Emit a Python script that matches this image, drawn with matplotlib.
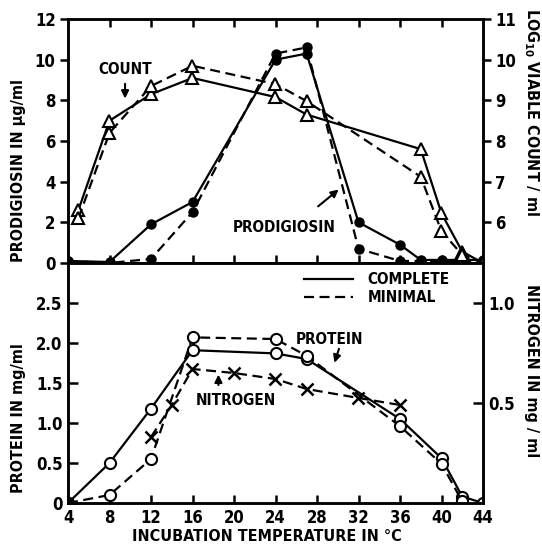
import matplotlib
matplotlib.use('Agg')
import matplotlib.pyplot as plt

plt.rcParams['font.family'] = ['DejaVu Sans']
plt.rcParams['font.stretch'] = 'condensed'
plt.rcParams['font.weight'] = 'bold'
plt.rcParams['mathtext.fontset'] = 'custom'
plt.rcParams['mathtext.rm'] = 'DejaVu Sans:bold'
plt.rcParams['mathtext.bf'] = 'DejaVu Sans:bold'

# ---- top panel: prodigiosin (left axis) and log10 viable count (right axis)
prod_x = [4, 8, 12, 16, 24, 27, 32, 36, 38, 40, 44]
prod_complete = [0.1, 0.05, 1.9, 3.0, 10.0, 10.3, 2.0, 0.9, 0.15, 0.15, 0.15]
prod_minimal = [0.1, 0.0, 0.2, 2.5, 10.3, 10.6, 0.7, 0.1, 0.1, 0.1, 0.1]

count_x = [5, 8, 12, 16, 24, 27, 38, 40, 42, 44]
count_complete = [6.3, 8.5, 9.15, 9.55, 9.08, 8.65, 7.8, 6.22, 5.28, 5.0]
count_minimal = [6.1, 8.2, 9.35, 9.85, 9.4, 8.98, 7.12, 5.78, 5.2, 5.0]

# ---- bottom panel: protein (left axis) and nitrogen (right axis)
prot_x_complete = [4, 8, 12, 16, 24, 27, 36, 40, 42, 44]
prot_complete = [0.0, 0.5, 1.18, 1.91, 1.87, 1.8, 1.05, 0.56, 0.08, 0.0]
prot_x_minimal = [4, 8, 12, 16, 24, 27, 36, 40, 42]
prot_minimal = [0.0, 0.1, 0.55, 2.07, 2.05, 1.84, 0.96, 0.49, 0.02]

nitro_x = [12, 14, 16, 20, 24, 27, 32, 36]
nitro_minimal = [0.33, 0.49, 0.67, 0.65, 0.62, 0.57, 0.525, 0.49]

x_ticks = [4, 8, 12, 16, 20, 24, 28, 32, 36, 40, 44]

lw = 1.6
dash = (0, (4.5, 2.5))
fs = 12
lfs = 11.5
tfs = 11

fig = plt.figure(figsize=(5.42, 5.48), dpi=100)
ax1 = fig.add_axes([68/542, (548-263)/548, 415/542, 244/548])
ax1r = ax1.twinx()
ax2 = fig.add_axes([68/542, (548-503)/548, 415/542, 240/548])
ax2r = ax2.twinx()

# top curves
ax1.plot(prod_x, prod_complete, '-', color='k', lw=lw, marker='o', ms=6.5, mfc='k')
ax1.plot(prod_x, prod_minimal, linestyle=dash, color='k', lw=lw, marker='o', ms=6.5, mfc='k')
ax1r.plot(count_x, count_complete, '-', color='k', lw=lw, marker='^', ms=8, mfc='white', mew=1.5)
ax1r.plot(count_x, count_minimal, linestyle=dash, color='k', lw=lw, marker='^', ms=8, mfc='white', mew=1.5)

ax1.set_xlim(4, 44)
ax1.set_ylim(0, 12)
ax1r.set_ylim(5, 11)
ax1.set_xticks(x_ticks[1:-1])
ax1.tick_params(axis='x', which='both', direction='in', top=True, bottom=True,
                labelbottom=False, length=6, width=1.8)
ax1.set_yticks(range(0, 13, 2))
ax1.tick_params(axis='y', direction='out', length=6, width=1.8, labelsize=fs, pad=3)
ax1r.set_yticks(range(6, 12))
ax1r.tick_params(axis='y', direction='out', length=6, width=1.8, labelsize=fs, pad=3)
ax1.set_ylabel('PRODIGIOSIN IN \u03bcg/ml', fontsize=lfs, fontweight='bold')
ax1.yaxis.set_label_coords(-0.1, 0.38)
ax1r.set_ylabel('LOG$_{10}$ VIABLE COUNT / ml', fontsize=lfs, fontweight='bold', rotation=270)
ax1r.yaxis.set_label_coords(1.14, 0.62)

ax1.text(9.5, 9.5, 'COUNT', ha='center', va='center', fontsize=tfs, fontweight='bold')
ax1.annotate('', xy=(9.5, 7.95), xytext=(9.5, 8.95),
             arrowprops=dict(arrowstyle='-|>', color='k', lw=1.5, mutation_scale=11))
ax1.text(24.8, 1.75, 'PRODIGIOSIN', ha='center', va='center', fontsize=tfs, fontweight='bold')
ax1.annotate('', xy=(30.3, 3.7), xytext=(27.9, 2.7),
             arrowprops=dict(arrowstyle='-|>', color='k', lw=1.5, mutation_scale=11))

# bottom curves
ax2.plot(prot_x_complete, prot_complete, '-', color='k', lw=lw, marker='o', ms=8,
         mfc='white', mew=1.5)
ax2.plot(prot_x_minimal, prot_minimal, linestyle=dash, color='k', lw=lw, marker='o', ms=8,
         mfc='white', mew=1.5)
ax2.plot([4], [0], 'o', color='k', ms=8)
ax2r.plot(nitro_x, nitro_minimal, linestyle=dash, color='k', lw=lw, marker='x', ms=9, mew=1.8)

ax2.set_xlim(4, 44)
ax2.set_ylim(0, 3.0)
ax2r.set_ylim(0, 1.2)
ax2.set_xticks(x_ticks)
ax2.tick_params(axis='x', direction='in', length=6, width=1.8, labelsize=fs, pad=4)
ax2.set_yticks([0, 0.5, 1.0, 1.5, 2.0, 2.5])
ax2.set_yticklabels(['0', '0.5', '1.0', '1.5', '2.0', '2.5'])
ax2.tick_params(axis='y', direction='in', length=7, width=1.8, labelsize=fs, pad=4)
ax2r.set_yticks([0.5, 1.0])
ax2r.set_yticklabels(['0.5', '1.0'])
ax2r.tick_params(axis='y', direction='in', length=7, width=1.8, labelsize=fs, pad=4)
ax2.set_ylabel('PROTEIN IN mg/ml', fontsize=lfs, fontweight='bold')
ax2.yaxis.set_label_coords(-0.1, 0.355)
ax2r.set_ylabel('NITROGEN IN mg / ml', fontsize=lfs, fontweight='bold', rotation=270)
ax2r.yaxis.set_label_coords(1.135, 0.55)
ax2.set_xlabel('INCUBATION TEMPERATURE IN \u00b0C', fontsize=lfs, fontweight='bold')
ax2.xaxis.set_label_coords(0.48, -0.11)

ax2.plot([26.7, 31.5], [2.8, 2.8], '-', color='k', lw=lw)
ax2.plot([26.7, 31.5], [2.575, 2.575], linestyle=dash, color='k', lw=lw)
ax2.text(32.9, 2.8, 'COMPLETE', ha='left', va='center', fontsize=tfs, fontweight='bold')
ax2.text(32.9, 2.575, 'MINIMAL', ha='left', va='center', fontsize=tfs, fontweight='bold')

ax2.text(29.2, 2.05, 'PROTEIN', ha='center', va='center', fontsize=tfs, fontweight='bold')
ax2.annotate('', xy=(29.6, 1.72), xytext=(30.2, 1.96),
             arrowprops=dict(arrowstyle='-|>', color='k', lw=1.5, mutation_scale=11))
ax2.text(20.2, 1.28, 'NITROGEN', ha='center', va='center', fontsize=tfs, fontweight='bold')
ax2.annotate('', xy=(18.5, 1.64), xytext=(18.5, 1.44),
             arrowprops=dict(arrowstyle='-|>', color='k', lw=1.5, mutation_scale=11))

for a in (ax1, ax1r, ax2, ax2r):
    for s in a.spines.values():
        s.set_linewidth(1.8)
    for lab in a.get_xticklabels() + a.get_yticklabels():
        lab.set_fontweight('bold')

fig.savefig('out.png', dpi=100)
